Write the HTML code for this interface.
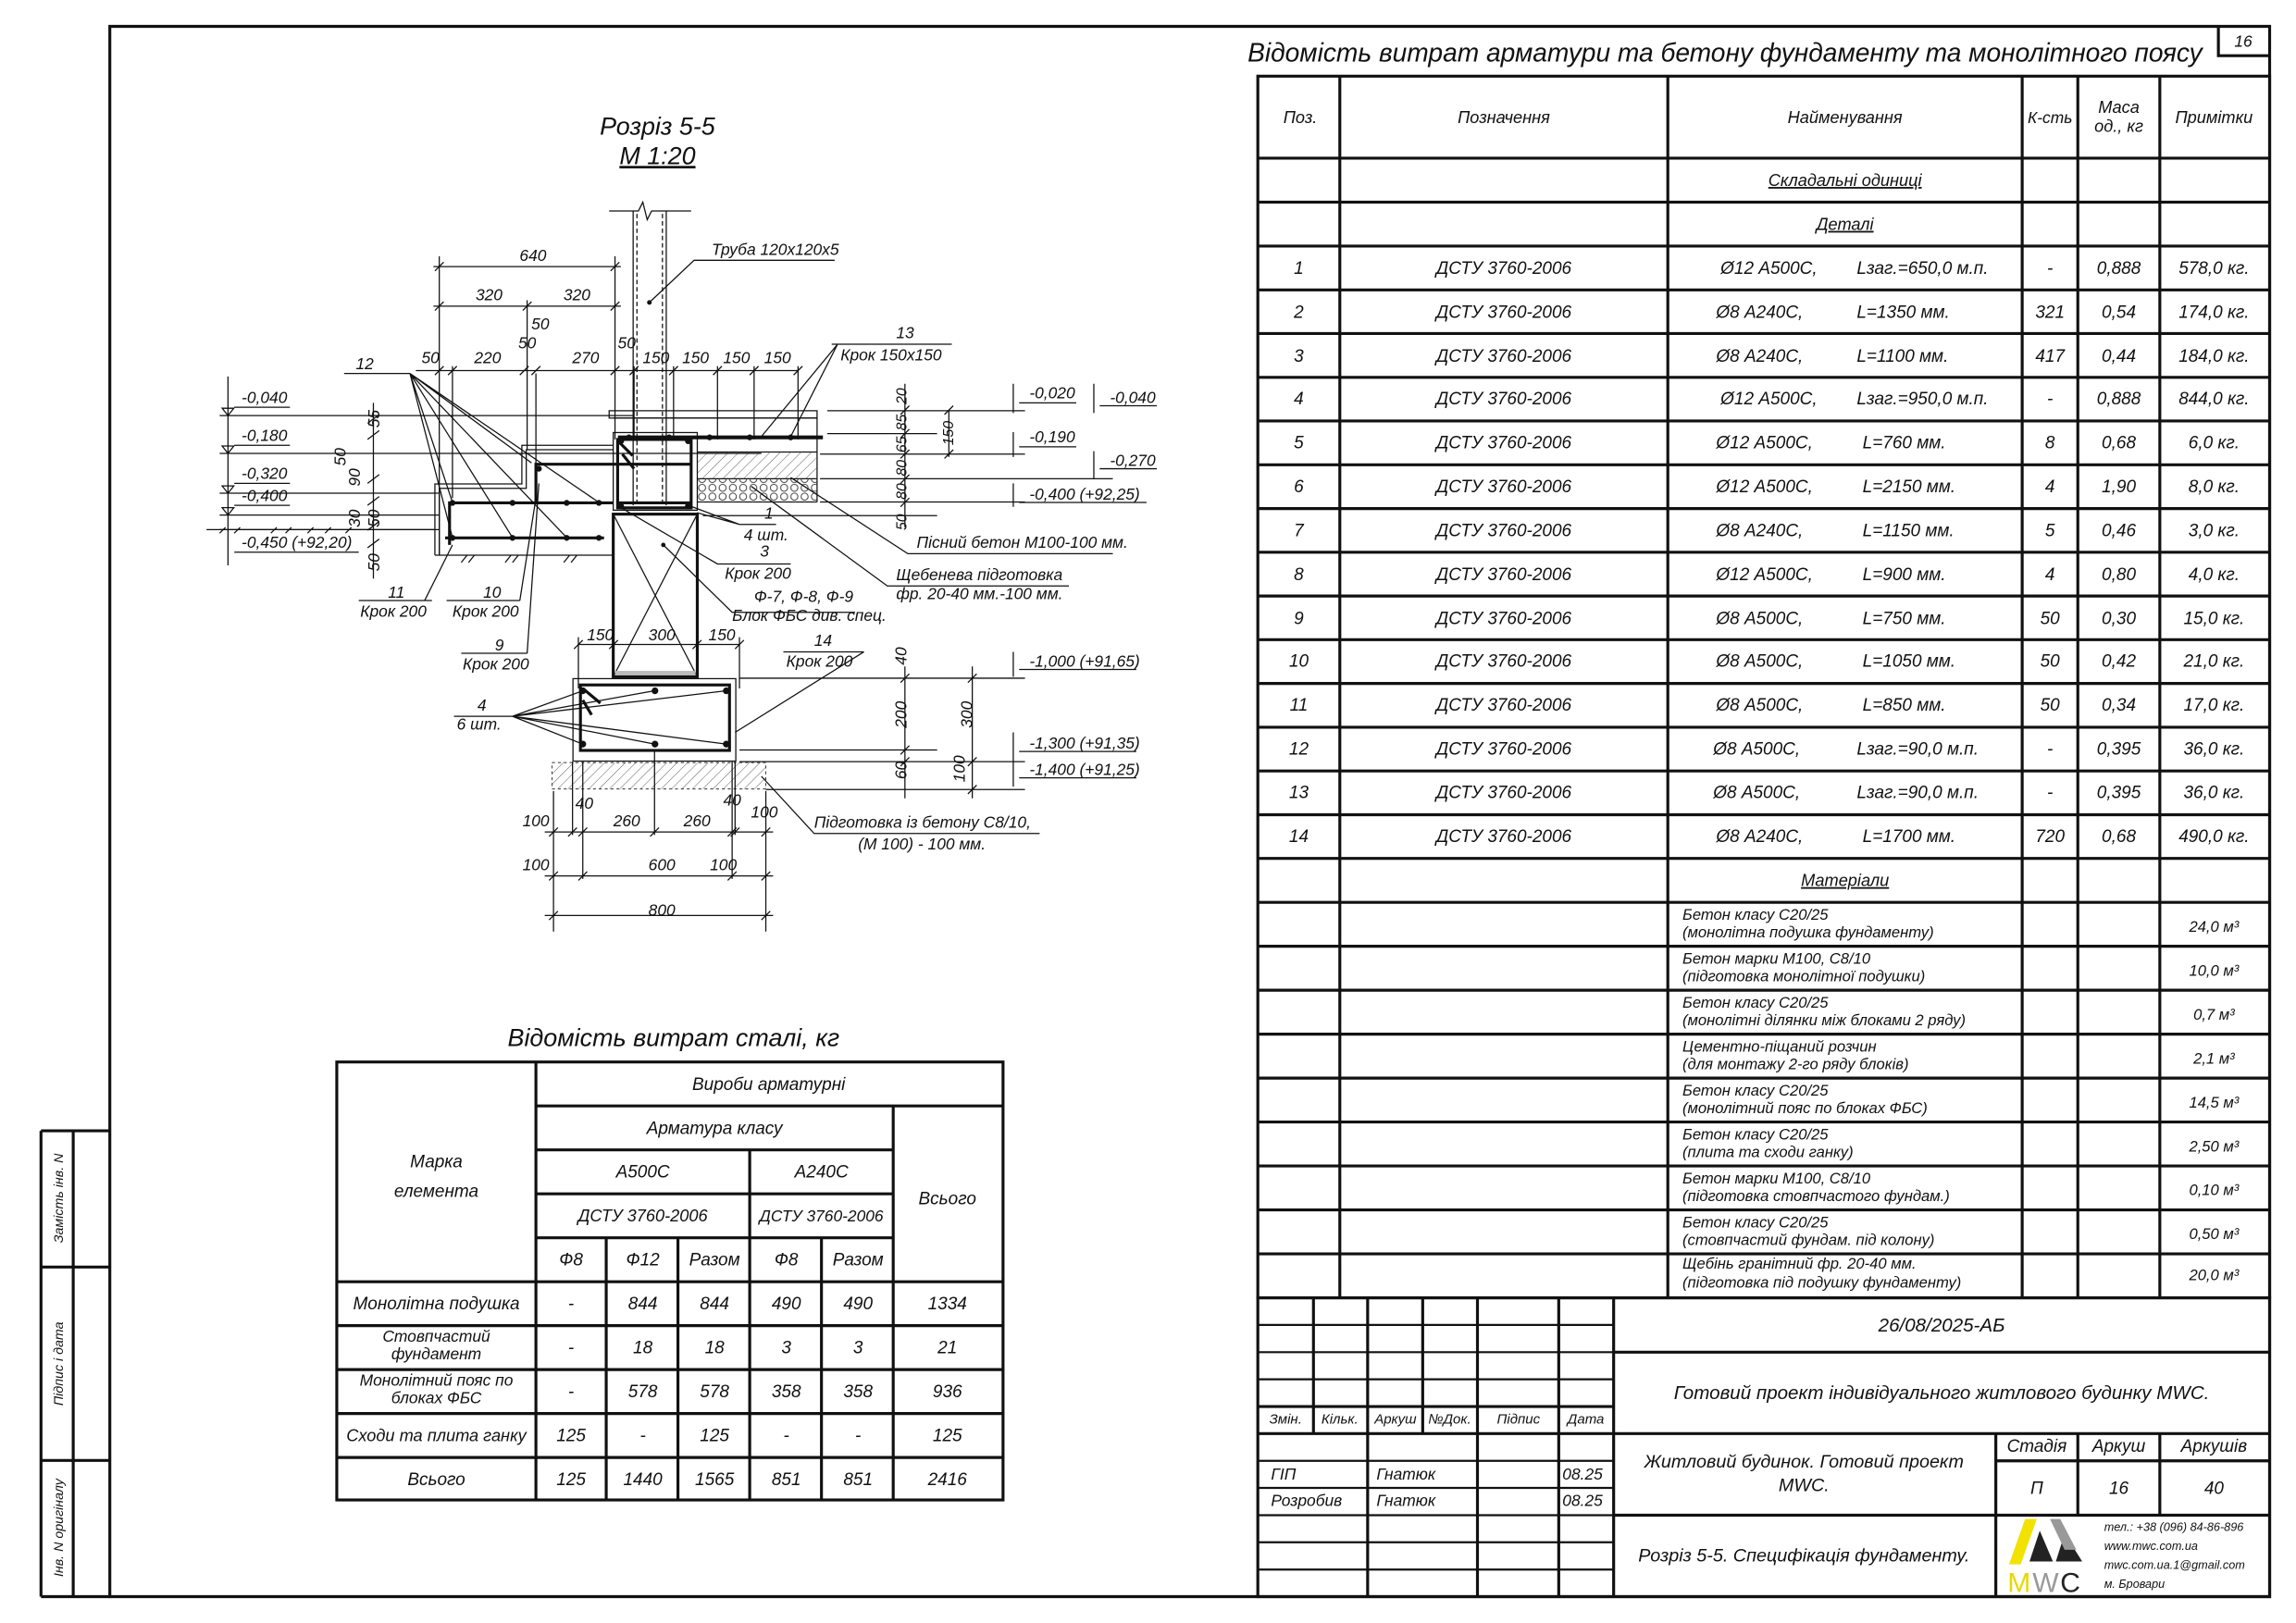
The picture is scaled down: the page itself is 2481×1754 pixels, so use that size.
<!DOCTYPE html>
<html><head><meta charset="utf-8"><style>
html,body{margin:0;padding:0;background:#fff}
svg{display:block}
text{font-family:"Liberation Sans Narrow","Liberation Sans","DejaVu Sans",sans-serif;font-style:italic;fill:#111}
.c{text-anchor:middle}
.t{stroke:#111;stroke-width:0.8;fill:none}
.m{stroke:#111;stroke-width:1.4;fill:none}
.k{stroke:#111;stroke-width:2;fill:none}
.r{stroke:#111;stroke-width:2.6;fill:none}
</style></head><body>
<svg width="2481" height="1754" viewBox="0 0 1568 1108" preserveAspectRatio="none" xmlns="http://www.w3.org/2000/svg" font-size="12">
<defs>
<pattern id="h" width="5" height="5" patternUnits="userSpaceOnUse" patternTransform="rotate(45)"><line x1="0" y1="0" x2="0" y2="5" stroke="#555" stroke-width="0.6"/></pattern>
<pattern id="g" width="7" height="6" patternUnits="userSpaceOnUse"><circle cx="3.5" cy="3" r="2.4" stroke="#333" stroke-width="0.6" fill="none"/></pattern>
</defs>
<rect width="1568" height="1108" fill="#fff"/>
<!-- frame -->
<path class="k" d="M75 18 H1550 V1090 H75 Z"/>
<line class="k" x1="28" y1="1090" x2="75" y2="1090"/>
<path class="k" d="M28 772 H75 M28 865 H75 M28 997 H75 M50 772 V1090 M28 772 V1090"/>
<text transform="translate(43,818) rotate(-90)" class="c" font-size="9">Замість інв. N</text>
<text transform="translate(43,931) rotate(-90)" class="c" font-size="9">Підпис і дата</text>
<text transform="translate(43,1043) rotate(-90)" class="c" font-size="9">Інв. N оригіналу</text>
<path class="k" d="M1515 18 V38 H1550"/>
<text x="1532" y="32" class="c" font-size="11">16</text>
<text x="852" y="42" font-size="18" textLength="652" lengthAdjust="spacingAndGlyphs">Відомість витрат арматури та бетону фундаменту та монолітного поясу</text>

<!-- spec table -->
<g class="k">
<rect x="859" y="52" width="691" height="834"/>
<path d="M915 52V886 M1139 52V886 M1381 52V886 M1419 52V886 M1475 52V886"/>
<path d="M859 108H1550 M859 138H1550 M859 168H1550 M859 197.9H1550 M859 227.7H1550 M859 257.6H1550 M859 287.4H1550 M859 317.3H1550 M859 347.2H1550 M859 377H1550 M859 406.9H1550 M859 436.7H1550 M859 466.6H1550 M859 496.5H1550 M859 526.3H1550 M859 556.2H1550 M859 586H1550 M859 616H1550 M859 646H1550 M859 676H1550 M859 706H1550 M859 736H1550 M859 766H1550 M859 796H1550 M859 826H1550 M859 856H1550"/>
</g>
<g font-size="11.5">
<text x="888" y="84" class="c">Поз.</text><text x="1027" y="84" class="c">Позначення</text><text x="1260" y="84" class="c">Найменування</text><text x="1400" y="84" class="c" font-size="11">К-сть</text><text x="1447" y="77" class="c">Маса</text><text x="1447" y="90" class="c">од., кг</text><text x="1512" y="84" class="c">Примітки</text>
<text x="1260" y="127" class="c" text-decoration="underline">Складальні одиниці</text>
<text x="1260" y="157" class="c" text-decoration="underline">Деталі</text>
<text x="1260" y="605" class="c" text-decoration="underline">Матеріали</text>
</g>
<g font-size="12">
<text x="887" y="187" class="c">1</text><text x="1027" y="187" class="c">ДСТУ 3760-2006</text><text x="1175" y="187">Ø12 А500С,</text><text x="1268" y="187">Lзаг.=650,0 м.п.</text><text x="1400" y="187" class="c">-</text><text x="1447" y="187" class="c">0,888</text><text x="1512" y="187" class="c">578,0 кг.</text>
<text x="887" y="217" class="c">2</text><text x="1027" y="217" class="c">ДСТУ 3760-2006</text><text x="1172" y="217">Ø8 А240С,</text><text x="1268" y="217">L=1350 мм.</text><text x="1400" y="217" class="c">321</text><text x="1447" y="217" class="c">0,54</text><text x="1512" y="217" class="c">174,0 кг.</text>
<text x="887" y="247" class="c">3</text><text x="1027" y="247" class="c">ДСТУ 3760-2006</text><text x="1172" y="247">Ø8 А240С,</text><text x="1268" y="247">L=1100 мм.</text><text x="1400" y="247" class="c">417</text><text x="1447" y="247" class="c">0,44</text><text x="1512" y="247" class="c">184,0 кг.</text>
<text x="887" y="276" class="c">4</text><text x="1027" y="276" class="c">ДСТУ 3760-2006</text><text x="1175" y="276">Ø12 А500С,</text><text x="1268" y="276">Lзаг.=950,0 м.п.</text><text x="1400" y="276" class="c">-</text><text x="1447" y="276" class="c">0,888</text><text x="1512" y="276" class="c">844,0 кг.</text>
<text x="887" y="306" class="c">5</text><text x="1027" y="306" class="c">ДСТУ 3760-2006</text><text x="1172" y="306">Ø12 А500С,</text><text x="1272" y="306">L=760 мм.</text><text x="1400" y="306" class="c">8</text><text x="1447" y="306" class="c">0,68</text><text x="1512" y="306" class="c">6,0 кг.</text>
<text x="887" y="336" class="c">6</text><text x="1027" y="336" class="c">ДСТУ 3760-2006</text><text x="1172" y="336">Ø12 А500С,</text><text x="1272" y="336">L=2150 мм.</text><text x="1400" y="336" class="c">4</text><text x="1447" y="336" class="c">1,90</text><text x="1512" y="336" class="c">8,0 кг.</text>
<text x="887" y="366" class="c">7</text><text x="1027" y="366" class="c">ДСТУ 3760-2006</text><text x="1172" y="366">Ø8 А240С,</text><text x="1272" y="366">L=1150 мм.</text><text x="1400" y="366" class="c">5</text><text x="1447" y="366" class="c">0,46</text><text x="1512" y="366" class="c">3,0 кг.</text>
<text x="887" y="396" class="c">8</text><text x="1027" y="396" class="c">ДСТУ 3760-2006</text><text x="1172" y="396">Ø12 А500С,</text><text x="1272" y="396">L=900 мм.</text><text x="1400" y="396" class="c">4</text><text x="1447" y="396" class="c">0,80</text><text x="1512" y="396" class="c">4,0 кг.</text>
<text x="887" y="426" class="c">9</text><text x="1027" y="426" class="c">ДСТУ 3760-2006</text><text x="1172" y="426">Ø8 А500С,</text><text x="1272" y="426">L=750 мм.</text><text x="1400" y="426" class="c">50</text><text x="1447" y="426" class="c">0,30</text><text x="1512" y="426" class="c">15,0 кг.</text>
<text x="887" y="455" class="c">10</text><text x="1027" y="455" class="c">ДСТУ 3760-2006</text><text x="1172" y="455">Ø8 А500С,</text><text x="1272" y="455">L=1050 мм.</text><text x="1400" y="455" class="c">50</text><text x="1447" y="455" class="c">0,42</text><text x="1512" y="455" class="c">21,0 кг.</text>
<text x="887" y="485" class="c">11</text><text x="1027" y="485" class="c">ДСТУ 3760-2006</text><text x="1172" y="485">Ø8 А500С,</text><text x="1272" y="485">L=850 мм.</text><text x="1400" y="485" class="c">50</text><text x="1447" y="485" class="c">0,34</text><text x="1512" y="485" class="c">17,0 кг.</text>
<text x="887" y="515" class="c">12</text><text x="1027" y="515" class="c">ДСТУ 3760-2006</text><text x="1170" y="515">Ø8 А500С,</text><text x="1268" y="515">Lзаг.=90,0 м.п.</text><text x="1400" y="515" class="c">-</text><text x="1447" y="515" class="c">0,395</text><text x="1512" y="515" class="c">36,0 кг.</text>
<text x="887" y="545" class="c">13</text><text x="1027" y="545" class="c">ДСТУ 3760-2006</text><text x="1170" y="545">Ø8 А500С,</text><text x="1268" y="545">Lзаг.=90,0 м.п.</text><text x="1400" y="545" class="c">-</text><text x="1447" y="545" class="c">0,395</text><text x="1512" y="545" class="c">36,0 кг.</text>
<text x="887" y="575" class="c">14</text><text x="1027" y="575" class="c">ДСТУ 3760-2006</text><text x="1172" y="575">Ø8 А240С,</text><text x="1272" y="575">L=1700 мм.</text><text x="1400" y="575" class="c">720</text><text x="1447" y="575" class="c">0,68</text><text x="1512" y="575" class="c">490,0 кг.</text>
</g>
<g font-size="10.5">
<text x="1149" y="628">Бетон класу С20/25</text><text x="1149" y="640">(монолітна подушка фундаменту)</text><text x="1512" y="636" class="c">24,0 м³</text>
<text x="1149" y="658">Бетон марки М100, С8/10</text><text x="1149" y="670">(підготовка монолітної подушки)</text><text x="1512" y="666" class="c">10,0 м³</text>
<text x="1149" y="688">Бетон класу С20/25</text><text x="1149" y="700">(монолітні ділянки між блоками 2 ряду)</text><text x="1512" y="696" class="c">0,7 м³</text>
<text x="1149" y="718">Цементно-піщаний розчин</text><text x="1149" y="730">(для монтажу 2-го ряду блоків)</text><text x="1512" y="726" class="c">2,1 м³</text>
<text x="1149" y="748">Бетон класу С20/25</text><text x="1149" y="760">(монолітний пояс по блоках ФБС)</text><text x="1512" y="756" class="c">14,5 м³</text>
<text x="1149" y="778">Бетон класу С20/25</text><text x="1149" y="790">(плита та сходи ганку)</text><text x="1512" y="786" class="c">2,50 м³</text>
<text x="1149" y="808">Бетон марки М100, С8/10</text><text x="1149" y="820">(підготовка стовпчастого фундам.)</text><text x="1512" y="816" class="c">0,10 м³</text>
<text x="1149" y="838">Бетон класу С20/25</text><text x="1149" y="850">(стовпчастий фундам. під колону)</text><text x="1512" y="846" class="c">0,50 м³</text>
<text x="1149" y="866">Щебінь гранітний фр. 20-40 мм.</text><text x="1149" y="879">(підготовка під подушку фундаменту)</text><text x="1512" y="874" class="c">20,0 м³</text>
</g>

<!-- title block -->
<g class="k">
<rect x="859" y="886" width="691" height="204"/>
<path d="M1102 886V1090 M859 978.7H1550 M859 960.2H1102 M1102 923.1H1550 M1102 1034.4H1550"/>
<path d="M897 886V978.7 M971.6 886V978.7 M934 886V1090 M1009 886V1090 M1064.5 886V1090"/>
<path d="M1363 978.7V1090 M1419 978.7V1034.4 M1475 978.7V1034.4 M1363 997.3H1550"/>
</g>
<path class="m" d="M859 904.5H1102 M859 923.1H1102 M859 941.6H1102 M859 997.3H1102 M859 1015.8H1102 M859 1034.4H1102 M859 1052.9H1102 M859 1071.5H1102"/>
<g font-size="9.5">
<text x="878" y="972" class="c">Змін.</text><text x="915" y="972" class="c">Кільк.</text><text x="953" y="972" class="c">Аркуш</text><text x="990" y="972" class="c">№Док.</text><text x="1037" y="972" class="c">Підпис</text><text x="1083" y="972" class="c">Дата</text>
</g>
<g font-size="11">
<text x="868" y="1010">ГІП</text><text x="940" y="1010">Гнатюк</text><text x="1067" y="1010">08.25</text>
<text x="868" y="1028">Розробив</text><text x="940" y="1028">Гнатюк</text><text x="1067" y="1028">08.25</text>
</g>
<text x="1326" y="909" class="c" font-size="13">26/08/2025-АБ</text>
<text x="1326" y="955" class="c" font-size="13">Готовий проект індивідуального житлового будинку MWC.</text>
<text x="1232" y="1002" class="c" font-size="12.5">Житловий будинок. Готовий проект</text>
<text x="1232" y="1018" class="c" font-size="12.5">MWC.</text>
<text x="1391" y="991" class="c" font-size="12">Стадія</text><text x="1447" y="991" class="c" font-size="12">Аркуш</text><text x="1512" y="991" class="c" font-size="12">Аркушів</text>
<text x="1391" y="1020" class="c" font-size="12">П</text><text x="1447" y="1020" class="c" font-size="12">16</text><text x="1512" y="1020" class="c" font-size="12">40</text>
<text x="1232" y="1066" class="c" font-size="12.5">Розріз 5-5. Специфікація фундаменту.</text>
<!-- logo -->
<polygon points="1383,1037 1391,1037 1380,1068 1372,1068" fill="#f2e200"/>
<polygon points="1393,1045 1402,1066 1386,1066" fill="#222"/>
<polygon points="1410,1047 1422,1066 1404,1066" fill="#222"/>
<polygon points="1400,1037 1407,1037 1418,1058 1410,1058" fill="#999"/>
<text x="1371" y="1087" font-size="19" style="font-style:normal;fill:#e8d800">M</text>
<text x="1388" y="1087" font-size="19" style="font-style:normal;fill:#999">W</text>
<text x="1407" y="1087" font-size="19" style="font-style:normal;fill:#222">C</text>
<g font-size="8" style="font-style:normal">
<text x="1437" y="1045">тел.: +38 (096) 84-86-896</text>
<text x="1437" y="1058">www.mwc.com.ua</text>
<text x="1437" y="1071">mwc.com.ua.1@gmail.com</text>
<text x="1437" y="1084">м. Бровари</text>
</g>

<!-- steel table -->
<text x="460" y="714" class="c" font-size="17">Відомість витрат сталі, кг</text>
<g class="k">
<rect x="230" y="725" width="455" height="299"/>
<path d="M366 725V1024 M610 755V1024 M366 755H685 M366 785H610 M366 815H610 M366 845H610 M230 875H685 M230 905H685 M230 935H685 M230 965H685 M230 995H685"/>
<path d="M512 785V1024 M414 845V1024 M463 845V1024 M561 845V1024"/>
</g>
<g font-size="12">
<text x="525" y="744" class="c">Вироби арматурні</text>
<text x="488" y="774" class="c">Арматура класу</text>
<text x="439" y="804" class="c">А500С</text><text x="561" y="804" class="c">А240С</text>
<text x="439" y="834" class="c" font-size="11.5">ДСТУ 3760-2006</text><text x="561" y="834" class="c" font-size="11">ДСТУ 3760-2006</text>
<text x="390" y="864" class="c">Ф8</text><text x="439" y="864" class="c">Ф12</text><text x="488" y="864" class="c">Разом</text><text x="537" y="864" class="c">Ф8</text><text x="586" y="864" class="c">Разом</text>
<text x="647" y="822" class="c">Всього</text>
<text x="298" y="797" class="c">Марка</text><text x="298" y="817" class="c">елемента</text>
<text x="298" y="894" class="c">Монолітна подушка</text>
<text x="298" y="916" class="c" font-size="11">Стовпчастий</text><text x="298" y="928" class="c" font-size="11">фундамент</text>
<text x="298" y="946" class="c" font-size="11">Монолітний пояс по</text><text x="298" y="958" class="c" font-size="11">блоках ФБС</text>
<text x="298" y="984" class="c" font-size="11.5">Сходи та плита ганку</text>
<text x="298" y="1014" class="c">Всього</text>
<text x="390" y="894" class="c">-</text><text x="439" y="894" class="c">844</text><text x="488" y="894" class="c">844</text><text x="537" y="894" class="c">490</text><text x="586" y="894" class="c">490</text><text x="647" y="894" class="c">1334</text>
<text x="390" y="924" class="c">-</text><text x="439" y="924" class="c">18</text><text x="488" y="924" class="c">18</text><text x="537" y="924" class="c">3</text><text x="586" y="924" class="c">3</text><text x="647" y="924" class="c">21</text>
<text x="390" y="954" class="c">-</text><text x="439" y="954" class="c">578</text><text x="488" y="954" class="c">578</text><text x="537" y="954" class="c">358</text><text x="586" y="954" class="c">358</text><text x="647" y="954" class="c">936</text>
<text x="390" y="984" class="c">125</text><text x="439" y="984" class="c">-</text><text x="488" y="984" class="c">125</text><text x="537" y="984" class="c">-</text><text x="586" y="984" class="c">-</text><text x="647" y="984" class="c">125</text>
<text x="390" y="1014" class="c">125</text><text x="439" y="1014" class="c">1440</text><text x="488" y="1014" class="c">1565</text><text x="537" y="1014" class="c">851</text><text x="586" y="1014" class="c">851</text><text x="647" y="1014" class="c">2416</text>
</g>

<!-- section drawing -->
<text x="449" y="92" class="c" font-size="17">Розріз 5-5</text>
<text x="449" y="112" class="c" font-size="17" text-decoration="underline">М 1:20</text>

<!-- pipe -->
<path class="t" d="M432.4 144V345 M455 144V345 M416 144H436 L439 138 L442 150 L445 144 H472"/>
<path class="t" stroke-dasharray="3 2" d="M435 146V345 M452.4 146V345"/>
<circle cx="443.5" cy="206.5" r="1.6" fill="#111"/>
<path class="t" d="M443.5 206.5 L474 177.7 H570"/>
<text x="486" y="174" font-size="11">Труба 120х120х5</text>
<!-- slab -->
<rect x="416" y="280.4" width="142" height="5" fill="url(#h)" class="t"/>
<path class="t" d="M419 285.4H558 V342.7 M476 308.6H558 M476 326.8H558 M476 342.7H558"/>
<rect x="476" y="308.6" width="82" height="18.2" fill="url(#h)"/>
<rect x="476" y="326.8" width="82" height="15.9" fill="url(#g)"/>
<line class="r" x1="422" y1="298.6" x2="562" y2="298.6"/>
<g fill="#111"><circle cx="429.5" cy="298.6" r="2"/><circle cx="457" cy="298.6" r="2"/><circle cx="484.6" cy="298.6" r="2"/><circle cx="512" cy="298.6" r="2"/><circle cx="540" cy="298.6" r="2"/></g>
<!-- belt -->
<rect x="418.8" y="295.3" width="57.4" height="53" class="t"/>
<rect x="421.8" y="300" width="50.2" height="46.7" class="k"/>
<path class="k" d="M423 302 L432 311 M425 310 L433 320"/>
<g fill="#111"><circle cx="424" cy="301" r="2.2"/><circle cx="470" cy="301" r="2.2"/><circle cx="424" cy="345.5" r="2.2"/><circle cx="470" cy="345.5" r="2.2"/></g>
<!-- FBS -->
<rect x="418.8" y="351" width="57.4" height="111" class="k"/>
<path class="t" d="M418.8 351 L476.2 462 M476.2 351 L418.8 462"/>
<rect x="420" y="458" width="55" height="3" fill="#bbb"/>
<circle cx="453" cy="372" r="1.5" fill="#111"/>
<!-- stepped pillow -->
<path class="t" d="M297 379V330.4H356.4V304H418.8 M300 379V333.4H359.4V307H418.8 M297 379H418.8"/>
<path class="k" d="M307 372V343.3H418.8 M304 367.2H412.5 M366 343.3V316.9H472 M421.8 343.3H472"/>
<g fill="#111"><circle cx="309" cy="343.3" r="2"/><circle cx="350" cy="343.3" r="2"/><circle cx="387" cy="343.3" r="2"/><circle cx="409" cy="343.3" r="2"/><circle cx="309" cy="367.2" r="2"/><circle cx="350" cy="367.2" r="2"/><circle cx="387" cy="367.2" r="2"/><circle cx="409" cy="367.2" r="2"/><circle cx="368" cy="320" r="2"/></g>
<path class="t" d="M141 361.6H297 M150 364 l4 -4 M160 364 l4 -4 M185 364 l4 -4 M195 364 l4 -4 M210 364 l4 -4 M222 364 l4 -4 M236 364 l4 -4 M315 384 l4 -5 M320 384 l4 -5 M345 384 l4 -5 M350 384 l4 -5 M385 384 l4 -5 M390 384 l4 -5"/>
<!-- left elevation lines -->
<path class="t" d="M155.7 257V386 M150 283.7H432 M150 309.5H520 M150 336.7H300 M150 351.6H300 M150 361.6H300"/>
<path class="t" d="M160 278H198 M155.7 283.7 l-4 -5 h8 z M160 304H198 M155.7 309.5 l-4 -5 h8 z M160 330H198 M155.7 336.7 l-4 -5 h8z M160 345H198 M155.7 351.6 l-4 -5 h8z M160 377H245"/>
<g font-size="11">
<text x="165" y="275">-0,040</text><text x="165" y="301">-0,180</text><text x="165" y="327">-0,320</text><text x="165" y="342">-0,400</text><text x="165" y="374">-0,450 (+92,20)</text>
</g>
<path class="t" d="M255 275V395 M251 289l8 -6 M251 300l8 -6 M251 330l8 -6 M251 345l8 -6 M251 362l8 -6 M251 374l8 -6"/>
<g font-size="11">
<text transform="translate(259,292) rotate(-90)">55</text>
<text transform="translate(236,318) rotate(-90)">50</text>
<text transform="translate(246,332) rotate(-90)">90</text>
<text transform="translate(246,360) rotate(-90)">30</text>
<text transform="translate(259,360) rotate(-90)">50</text>
<text transform="translate(259,390) rotate(-90)">50</text>
</g>
<!-- top dims -->
<path class="t" d="M296 182H424 M296 209H424 M284 253H545 M300 175V379 M420 175V300 M360 205V307 M366 255V335 M309 250V340 M433 250V300 M490 250V300 M515 250V300 M460 250V300 M545 250V300"/>
<path class="t" d="M297 185l6 -6 M417 185l6 -6 M297 212l6 -6 M357 212l6 -6 M417 212l6 -6 M297 256l6 -6 M306 256l6 -6 M355 256l6 -6 M363 256l6 -6 M417 256l6 -6 M430 256l6 -6 M457 256l6 -6 M487 256l6 -6 M512 256l6 -6 M542 256l6 -6"/>
<g font-size="11">
<text x="364" y="178" class="c">640</text><text x="334" y="205" class="c">320</text><text x="394" y="205" class="c">320</text>
<text x="294" y="248" class="c">50</text><text x="333" y="248" class="c">220</text><text x="400" y="248" class="c">270</text>
<text x="448" y="248" class="c">150</text><text x="475" y="248" class="c">150</text><text x="503" y="248" class="c">150</text><text x="531" y="248" class="c">150</text>
<text x="369" y="225" class="c">50</text><text x="360" y="238" class="c">50</text><text x="428" y="238" class="c">50</text>
</g>
<!-- right dims -->
<path class="t" d="M565 280.4H700 M565 296H640 M560 310H700 M560 326.8H760 M560 342.7H700 M480 352H640 M618 262V360 M648 280V312 M615 283l6 -6 M615 299l6 -6 M615 313l6 -6 M615 330l6 -6 M615 346l6 -6 M645 283l6 -6 M645 313l6 -6"/>
<g font-size="10">
<text transform="translate(619,276) rotate(-90)">20</text><text transform="translate(619,294) rotate(-90)">85</text><text transform="translate(619,309) rotate(-90)">65</text><text transform="translate(619,325) rotate(-90)">80</text><text transform="translate(619,341) rotate(-90)">80</text><text transform="translate(619,362) rotate(-90)">50</text><text transform="translate(651,304) rotate(-90)">150</text>
</g>
<path class="t" d="M692 262V282 M696 275H735 M747 262V282 M751 277H790 M692 295V312 M696 305H735 M747 308V327 M751 320H790 M692 330V346 M696 343H783"/>
<g font-size="11">
<text x="703" y="272">-0,020</text><text x="758" y="275">-0,040</text><text x="703" y="302">-0,190</text><text x="758" y="318">-0,270</text><text x="703" y="341">-0,400 (+92,25)</text>
</g>
<!-- bottom footing -->
<rect x="391.3" y="463.3" width="111.2" height="56.3" class="t"/>
<rect x="396.4" y="467.6" width="101.8" height="44.7" class="k"/>
<path class="k" d="M398 470 L410 480 M398 478 L404 488"/>
<g fill="#111"><circle cx="398" cy="471.6" r="2.3"/><circle cx="447.3" cy="471.6" r="2.3"/><circle cx="496" cy="471.6" r="2.3"/><circle cx="398" cy="508" r="2.3"/><circle cx="447.3" cy="508" r="2.3"/><circle cx="496" cy="508" r="2.3"/></g>
<rect x="377" y="520.6" width="146" height="18" fill="url(#h)" stroke="#333" stroke-width="0.6" stroke-dasharray="2 2"/>
<path class="t" d="M505 463H700 M505 512H640 M505 520H700 M523 539H700 M618 455V545 M664 455V545 M615 466l6 -6 M615 515l6 -6 M615 523l6 -6 M661 466l6 -6 M661 523l6 -6 M661 542l6 -6"/>
<g font-size="11">
<text transform="translate(619,454) rotate(-90)">40</text><text transform="translate(619,497) rotate(-90)">200</text><text transform="translate(664,497) rotate(-90)">300</text><text transform="translate(619,532) rotate(-90)">60</text><text transform="translate(659,534) rotate(-90)">100</text>
</g>
<path class="t" d="M692 445V462 M696 457H776 M692 500V518 M696 513H776 M692 518V537 M696 531H776"/>
<g font-size="11">
<text x="703" y="455">-1,000 (+91,65)</text><text x="703" y="511">-1,300 (+91,35)</text><text x="703" y="529">-1,400 (+91,25)</text>
</g>
<!-- under dims -->
<path class="t" d="M395 440H505 M395 435V470 M505 435V470 M392 443l6 -6 M416 443l6 -6 M473 443l6 -6 M502 443l6 -6"/>
<g font-size="11"><text x="410" y="437" class="c">150</text><text x="452" y="437" class="c">300</text><text x="493" y="437" class="c">150</text></g>
<path class="t" d="M372 568H528 M372 598H528 M372 625H528 M378 540V636 M523 540V636 M398 520V600 M447 512V570 M500 520V600 M391 520V570 M502 520V570"/>
<path class="t" d="M375 571l6 -6 M388 571l6 -6 M395 571l6 -6 M444 571l6 -6 M497 571l6 -6 M499 571l6 -6 M520 571l6 -6 M375 601l6 -6 M395 601l6 -6 M497 601l6 -6 M520 601l6 -6 M375 628l6 -6 M520 628l6 -6"/>
<g font-size="11">
<text x="366" y="564" class="c">100</text><text x="399" y="552" class="c">40</text><text x="428" y="564" class="c">260</text><text x="476" y="564" class="c">260</text><text x="500" y="550" class="c">40</text><text x="522" y="558" class="c">100</text>
<text x="366" y="594" class="c">100</text><text x="452" y="594" class="c">600</text><text x="494" y="594" class="c">100</text>
<text x="452" y="625" class="c">800</text>
</g>
<!-- labels & leaders -->
<g font-size="11">
<text x="612" y="231">13</text><text x="574" y="246">Крок 150х150</text>
<text x="243" y="252">12</text>
<text x="522" y="354">1</text><text x="508" y="369">4 шт.</text>
<text x="519" y="380">3</text><text x="495" y="395">Крок 200</text>
<text x="515" y="411">Ф-7, Ф-8, Ф-9</text><text x="500" y="424">Блок ФБС див. спец.</text>
<text x="626" y="374">Пісний бетон М100-100 мм.</text>
<text x="612" y="396">Щебенева підготовка</text><text x="612" y="409">фр. 20-40 мм.-100 мм.</text>
<text x="265" y="408">11</text><text x="246" y="421">Крок 200</text>
<text x="330" y="408">10</text><text x="309" y="421">Крок 200</text>
<text x="338" y="444">9</text><text x="316" y="457">Крок 200</text>
<text x="556" y="441">14</text><text x="537" y="455">Крок 200</text>
<text x="326" y="485">4</text><text x="312" y="498">6 шт.</text>
<text x="556" y="565">Підготовка із бетону С8/10,</text><text x="586" y="580">(М 100) - 100 мм.</text>
</g>
<path class="t" d="M568 235H650 M572 235 L520 298 M572 235 L540 298 M235 255H280 M280 255 L309 343 M280 255 L350 367 M280 255 L387 367 M280 255 L363 316 M280 255 L409 343 M280 255 L309 367"/>
<path class="t" d="M476 350 L505 358 H530 M470 345 L505 358 M423 346 L490 385 H540 M453 372 L500 418 H584 M540 326 L620 378 H760 M513 332 L606 400 H730"/>
<path class="t" d="M245 410H295 M290 410 L309 372 M305 410H355 M355 410 L366 340 M315 446H360 M360 446 L368 330 M535 445H590 M590 445 L502 500 M310 489H350 M350 489 L398 471.6 M350 489 L447 471.6 M350 489 L496 471.6 M350 489 L398 508 M350 489 L447 508 M350 489 L496 508 M520 530 L556 569 H710"/>
</svg>
</body></html>
